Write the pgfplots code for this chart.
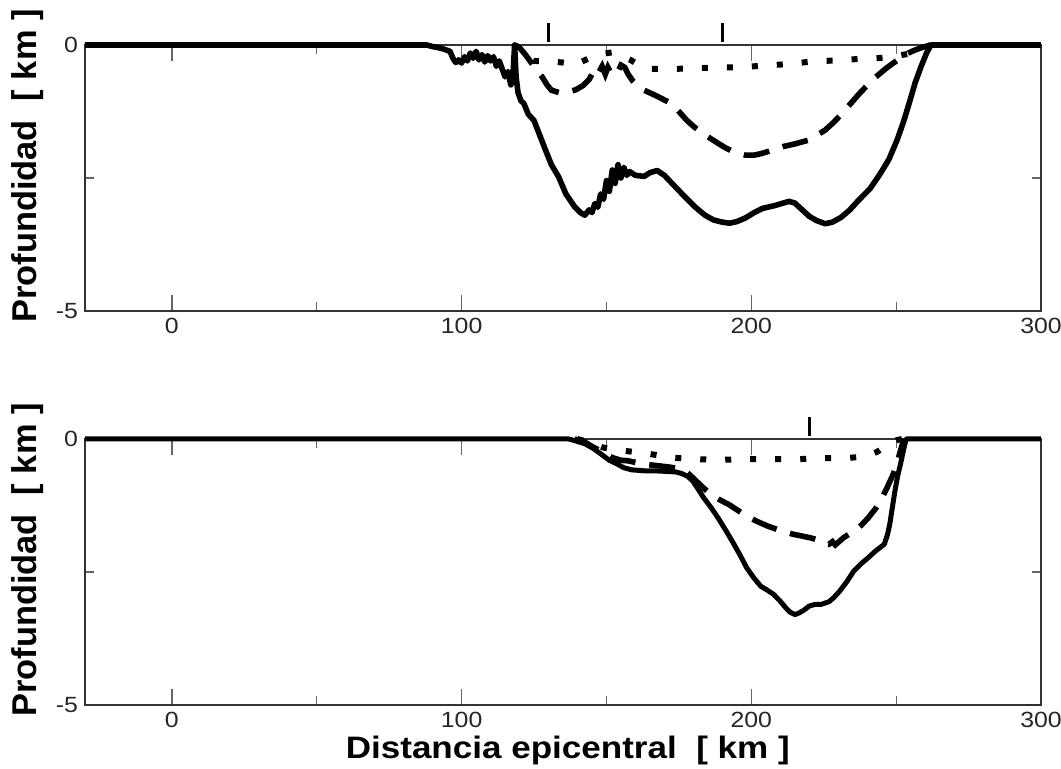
\documentclass[border=0pt]{standalone}
\usepackage{fontspec}
\setmainfont{Liberation Sans}
\newfontfamily\hfont{Liberation Sans}[FakeStretch=1.13]
\usepackage{pgfplots}
\pgfplotsset{compat=1.18}

\pgfplotsset{
  panel/.style={
    scale only axis, width=478pt, height=133pt,
    xmin=-30, xmax=300, ymin=-5, ymax=0,
    xtick={0,100,200,300}, xticklabels={0,100,200,300},
    minor xtick={50,150,250},
    ytick={-5,0}, yticklabels={-5,0},
    minor ytick={-2.5},
    tick align=inside,
    major tick length=8pt, minor tick length=4.5pt,
    every tick/.style={black!60, line width=0.6pt},
    axis line style={black!80, line width=0.8pt},
    tick label style={font=\hfont\fontsize{11}{13}\selectfont, text=black!85},
    ylabel={Profundidad~~[~km~]},
    ylabel style={font=\fontsize{17.2}{20}\selectfont\bfseries, at={(axis description cs:-0.06,0.545)}, anchor=center},
    clip=false,
  },
  solidc/.style={black, line width=2.8pt, line join=round},
  dashc/.style={black, line width=2.8pt, dash pattern=on 13pt off 7pt},
  dotc/.style={black, line width=3pt, dash pattern=on 3pt off 9.5pt},
  mk/.style={black, line width=1.5pt},
}

\begin{document}
\begin{tikzpicture}
\useasboundingbox (0,0) rectangle (530.5pt,384.5pt);

% ---------------- top panel ----------------
\begin{axis}[panel, at={(42.5pt,229pt)}, anchor=south west]
\addplot[solidc] coordinates {
(-30,0) (88,0) (90,-0.03) (92,-0.05) (94,-0.08) (96,-0.12) (97,-0.25) (98,-0.33) (99,-0.28) (100,-0.34)
(101,-0.22) (102,-0.3) (103,-0.15) (104,-0.25) (105,-0.12) (106,-0.28) (107,-0.18) (108,-0.32) (109,-0.2)
(110,-0.3) (111,-0.22) (112,-0.4) (113,-0.3) (114,-0.45) (115,-0.6) (116,-0.5) (117,-0.75) (117.8,-0.5)
(118.3,0) (118.8,-0.6) (119.5,-0.9) (120.5,-1.05) (121.5,-1.1) (123,-1.3) (125,-1.42) (127,-1.7) (129,-1.98)
(131,-2.25) (133.5,-2.48) (136,-2.8) (139,-3.04) (141,-3.15) (142.5,-3.2) (144,-3.1) (145,-3.15) (146,-2.98)
(147,-3.05) (148,-2.8) (149,-2.9) (150,-2.55) (151,-2.75) (152,-2.35) (153,-2.6) (154,-2.25) (155,-2.5)
(156,-2.3) (157,-2.45) (158,-2.38) (160,-2.45) (163,-2.47) (165,-2.4) (167.5,-2.36) (170,-2.45) (174,-2.68)
(177,-2.85) (180.5,-3.04) (184,-3.2) (187,-3.29) (190,-3.33) (192.5,-3.35) (195,-3.32) (198,-3.25)
(201,-3.15) (204,-3.07) (208,-3.02) (213,-2.94) (215,-2.97) (217,-3.07) (220,-3.22) (222.5,-3.3)
(225.5,-3.36) (228,-3.33) (231,-3.24) (234,-3.1) (237,-2.92) (241,-2.7) (244.5,-2.42) (247.5,-2.15)
(250.3,-1.79) (252.5,-1.45) (254.8,-1.04) (256.5,-0.72) (258.5,-0.42) (260.5,-0.15) (262,0) (300,0)
};
\addplot[dashc] coordinates {
(118.5,0) (120,-0.05) (122,-0.18) (123.5,-0.29) (125.5,-0.45) (127.8,-0.6) (129.5,-0.75) (131,-0.85)
(134,-0.9) (137,-0.88) (139.5,-0.84) (142,-0.76) (144,-0.65) (145.5,-0.5) (146.7,-0.42) (147.5,-0.5)
(148.5,-0.4) (149.6,-0.55) (150.5,-0.42) (151.5,-0.52) (152.5,-0.45) (154,-0.5) (155,-0.38) (156.3,-0.42)
(157.5,-0.55) (159,-0.67) (161,-0.78) (163,-0.85) (167,-0.95) (172.4,-1.1) (175,-1.25) (177.8,-1.42)
(180.5,-1.55) (183.2,-1.66) (186,-1.76) (188.6,-1.85) (191,-1.93) (194,-2.01) (198,-2.07) (201,-2.07)
(203.6,-2.04) (207,-1.98) (210.9,-1.91) (215,-1.86) (219.7,-1.79) (222.5,-1.7) (225.5,-1.6) (228.5,-1.45)
(231.3,-1.29) (234,-1.12) (237.2,-0.92) (240,-0.76) (243,-0.6) (246.5,-0.44) (250.3,-0.29) (253,-0.18)
(256.3,-0.1) (259.3,-0.04) (262,0)
};
\addplot[dotc] coordinates {
(118,0) (120,-0.1) (122,-0.22) (125,-0.3) (131.4,-0.31) (135,-0.33) (139.4,-0.36) (142,-0.3) (145.2,-0.22)
(148,-0.17) (151.9,-0.14) (155,-0.2) (158.3,-0.28) (161,-0.37) (164.4,-0.45) (172.4,-0.45) (180.5,-0.44)
(187.9,-0.42) (196,-0.42) (203.6,-0.39) (212.4,-0.36) (221.1,-0.31) (229.2,-0.29) (237.9,-0.26)
(246,-0.24) (253.9,-0.17) (257.8,-0.11) (260,-0.05) (262,0)
};
\addplot[mk] coordinates {(130,0.06) (130,0.42)};
\addplot[mk] coordinates {(190,0.06) (190,0.42)};
\end{axis}

% ---------------- bottom panel ----------------
\begin{axis}[panel, at={(42.5pt,32pt)}, anchor=south west,
  xlabel={Distancia epicentral~~[~km~]},
  xlabel style={font=\hfont\fontsize{15.5}{18}\selectfont\bfseries, at={(axis description cs:0.505,-0.17)}, anchor=center}]
\addplot[solidc, line width=2.5pt] coordinates {
(-30,0) (137,0) (139,-0.03) (142.6,-0.09) (145.5,-0.18) (148.8,-0.31) (151,-0.4) (153.7,-0.47) (156,-0.54)
(158.7,-0.58) (163.6,-0.6) (167,-0.6) (171.1,-0.61) (174,-0.62) (176,-0.65) (178,-0.7) (179.8,-0.79)
(181.5,-0.93) (183.5,-1.1) (186,-1.28) (188.5,-1.48) (191,-1.7) (193.4,-1.92) (196,-2.17) (198.4,-2.42)
(201,-2.62) (203.3,-2.77) (205.5,-2.84) (207.7,-2.92) (210,-3.05) (212,-3.18) (213.5,-3.26) (215.1,-3.3)
(216.5,-3.27) (218.1,-3.22) (220,-3.14) (222,-3.11) (224,-3.11) (226.8,-3.06) (228.5,-2.98) (230.5,-2.86)
(233,-2.68) (235.4,-2.48) (238,-2.34) (240.4,-2.23) (243,-2.1) (245.9,-1.98) (247,-1.8) (247.8,-1.6)
(248.8,-1.25) (249.6,-0.97) (250.5,-0.7) (251.5,-0.47) (252.5,-0.22) (253.4,0) (300,0)
};
\addplot[dashc] coordinates {
(139,0) (142.6,-0.06) (145,-0.14) (148.8,-0.25) (152,-0.35) (155,-0.4) (157.4,-0.41) (161,-0.45) (164,-0.48)
(167.4,-0.5) (172,-0.53) (176,-0.57) (178.5,-0.66) (181,-0.79) (183.5,-0.92) (186,-1.04) (189,-1.14)
(192.2,-1.23) (195,-1.33) (198.4,-1.45) (202,-1.55) (205.8,-1.64) (210,-1.72) (214.4,-1.79) (218,-1.83)
(220.6,-1.86) (223,-1.9) (225,-1.96) (226.8,-1.98) (228,-1.93) (229,-1.99) (230.5,-1.92) (232,-1.85)
(235.4,-1.73) (238,-1.62) (240.4,-1.48) (243,-1.3) (245.2,-1.1) (247,-0.9) (249,-0.66) (250.3,-0.45)
(251.5,-0.22) (252.7,0)
};
\addplot[dotc] coordinates {
(140,0) (144,-0.06) (148.8,-0.16) (153,-0.2) (157.4,-0.23) (164.9,-0.28) (172.3,-0.35) (181,-0.38)
(190.9,-0.39) (198.4,-0.38) (207,-0.38) (215.7,-0.38) (224.4,-0.36) (232.4,-0.36) (237,-0.34)
(240.4,-0.31) (243.5,-0.24) (246.4,-0.13) (248.5,-0.06) (250.3,-0.02) (252,0)
};
\addplot[mk] coordinates {(220,0.06) (220,0.42)};
\end{axis}
\end{tikzpicture}
\end{document}
